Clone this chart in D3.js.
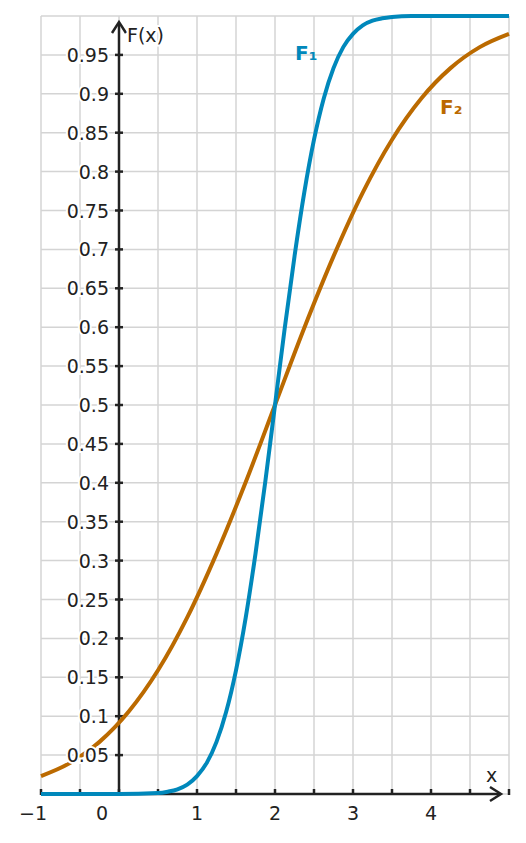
<!DOCTYPE html>
<html lang="en">
<head>
<meta charset="UTF-8">
<title>F(x)</title>
<style>
  body { margin: 0; background: #fff; }
  text { font-family: "DejaVu Sans", sans-serif; }
</style>
</head>
<body>
<script src="https://d3js.org/d3.v7.min.js"></script>
<script>
    let width = 526;
    let height = 843;

    // values
    let f1X = [-1, 0, 0.5, 0.625, 0.75, 0.875, 1, 1.125, 1.25, 1.375, 1.5, 1.625, 1.75, 1.875, 2,
               2.125, 2.25, 2.375, 2.5, 2.625, 2.75, 2.875, 3, 3.125, 3.25, 3.375, 3.5, 3.75, 5];
    let f1Y = [0, 0, 0.0013, 0.003, 0.006, 0.012, 0.023, 0.040, 0.067, 0.106, 0.159, 0.227, 0.309, 0.401, 0.5,
               0.599, 0.691, 0.773, 0.841, 0.894, 0.933, 0.960, 0.977, 0.988, 0.994, 0.997, 0.9987, 1, 1];
    let f2X = [-1, -0.625, -0.25, 0.125, 0.5, 0.875, 1.25, 1.625, 2, 2.375, 2.75, 3.125, 3.5, 3.875, 4.25, 4.625, 5];
    let f2Y = [0.023, 0.040, 0.067, 0.106, 0.159, 0.227, 0.309, 0.401, 0.5, 0.599, 0.691, 0.773, 0.841, 0.894, 0.933, 0.960, 0.977];
    let xTicks = [-1, 0, 1, 2, 3, 4];
    let yTicks = d3.range(1, 20).map(i => +(i * 0.05).toFixed(2));
    let xGrid = d3.range(-1, 5.01, 0.5);
    let yGrid = d3.range(0, 1.001, 0.05);

    let x = d3.scaleLinear().domain([-1, 5]).range([41, 509]);
    let y = d3.scaleLinear().domain([0, 1]).range([794, 16]);

    let svg = d3.select('body').append('svg')
        .attr('width', width).attr('height', height);

    svg.append('g').selectAll('line').data(xGrid).enter().append('line')
        .attr('x1', d => x(d)).attr('x2', d => x(d))
        .attr('y1', y(0)).attr('y2', y(1))
        .attr('stroke', '#d4d4d4').attr('stroke-width', 1.5);
    svg.append('g').selectAll('line').data(yGrid).enter().append('line')
        .attr('x1', x(-1)).attr('x2', x(5))
        .attr('y1', d => y(d)).attr('y2', d => y(d))
        .attr('stroke', '#d4d4d4').attr('stroke-width', 1.5);

    let axisColor = '#222';
    // x axis
    svg.append('line').attr('x1', x(-1)).attr('x2', 500)
        .attr('y1', y(0)).attr('y2', y(0)).attr('stroke', axisColor).attr('stroke-width', 2.5);
    svg.append('path').attr('d', `M490,${y(0) - 7} L501,${y(0)} L490,${y(0) + 7}`)
        .attr('fill', 'none').attr('stroke', axisColor).attr('stroke-width', 2.5);
    svg.append('g').selectAll('line').data(xGrid).enter().append('line')
        .attr('x1', d => x(d)).attr('x2', d => x(d))
        .attr('y1', y(0) - 5).attr('y2', y(0) + 1)
        .attr('stroke', axisColor).attr('stroke-width', 2.5);
    // y axis
    svg.append('line').attr('x1', x(0)).attr('x2', x(0))
        .attr('y1', y(0) + 2).attr('y2', 24).attr('stroke', axisColor).attr('stroke-width', 2.5);
    svg.append('path').attr('d', `M${x(0) - 7},33 L${x(0)},22 L${x(0) + 7},33`)
        .attr('fill', 'none').attr('stroke', axisColor).attr('stroke-width', 2.5);
    svg.append('g').selectAll('line').data(yTicks).enter().append('line')
        .attr('x1', x(0) - 4).attr('x2', x(0) + 4)
        .attr('y1', d => y(d)).attr('y2', d => y(d))
        .attr('stroke', axisColor).attr('stroke-width', 2.5);

    let line = d3.line().x(d => x(d[0])).y(d => y(d[1])).curve(d3.curveMonotoneX);
    svg.append('path').datum(f2X.map((v, i) => [v, f2Y[i]]))
        .attr('d', line).attr('fill', 'none').attr('stroke', '#bb6a00').attr('stroke-width', 4);
    svg.append('path').datum(f1X.map((v, i) => [v, f1Y[i]]))
        .attr('d', line).attr('fill', 'none').attr('stroke', '#0088bb').attr('stroke-width', 4);

    let halo = sel => sel.attr('fill', axisColor).attr('font-size', 19)
        .attr('stroke', '#fff').attr('stroke-width', 4).attr('paint-order', 'stroke');

    svg.append('g').selectAll('text').data(yTicks).enter().append('text')
        .attr('x', x(0) - 10).attr('y', d => y(d) + 7).attr('text-anchor', 'end')
        .text(d => String(d)).call(halo);
    svg.append('g').selectAll('text').data(xTicks).enter().append('text')
        .attr('x', d => d === 0 ? 102 : x(d) - (d === -1 ? 8 : 0)).attr('y', 820).attr('text-anchor', 'middle')
        .text(d => d < 0 ? '\u2212' + Math.abs(d) : String(d)).call(halo);

    svg.append('text').attr('x', 127).attr('y', 42).text('F(x)').call(halo);
    svg.append('text').attr('x', 486).attr('y', 782).text('x').call(halo);
    svg.append('text').attr('x', 295).attr('y', 60).text('F\u2081')
        .attr('fill', '#0088bb').attr('font-weight', 'bold').attr('font-size', 20);
    svg.append('text').attr('x', 440).attr('y', 114).text('F\u2082')
        .attr('fill', '#bb6a00').attr('font-weight', 'bold').attr('font-size', 20);
</script>
</body>
</html>
